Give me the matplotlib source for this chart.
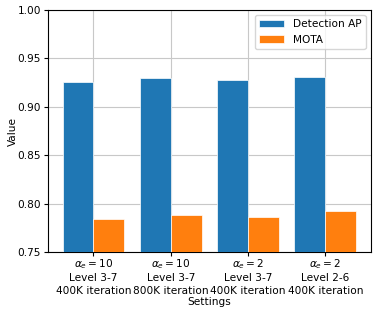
import numpy as np
from matplotlib import pyplot as plt

settings = ["$\\alpha_e = 10$\nLevel 3-7\n400K iteration",
            "$\\alpha_e = 10$\nLevel 3-7\n800K iteration",
            "$\\alpha_e = 2$\nLevel 3-7\n400K iteration",
            "$\\alpha_e = 2$\nLevel 2-6\n400K iteration"]
det_ap = [0.926, 0.930, 0.928, 0.931]
mota = [0.784, 0.788, 0.786, 0.792]

x = np.arange(len(settings))
width = 0.4
fs = 7.6

fig, ax = plt.subplots(figsize=(3.8, 3.12), dpi=100)
ax.bar(x - width / 2, det_ap, width, color='#1f77b4', edgecolor='white', linewidth=0.5, label='Detection AP', zorder=3)
ax.bar(x + width / 2, mota, width, color='#ff7f0e', edgecolor='white', linewidth=0.5, label='MOTA', zorder=3)

ax.set_ylim(0.75, 1.0)
ax.set_xticks(x)
ax.set_xticklabels(settings, fontsize=fs, linespacing=1.3)
ax.tick_params(axis='both', labelsize=fs, length=3, pad=2)
ax.tick_params(axis='x', pad=0.5)
ax.set_xlabel("Settings", fontsize=fs, labelpad=1)
ax.set_ylabel("Value", fontsize=fs, labelpad=-0.5)
ax.legend(loc='upper right', fontsize=fs, handlelength=2.4)
ax.grid(True, color='#c8c8c8', zorder=0)

fig.subplots_adjust(left=0.126, right=0.976, top=0.968, bottom=0.192)
plt.savefig('out.png')
